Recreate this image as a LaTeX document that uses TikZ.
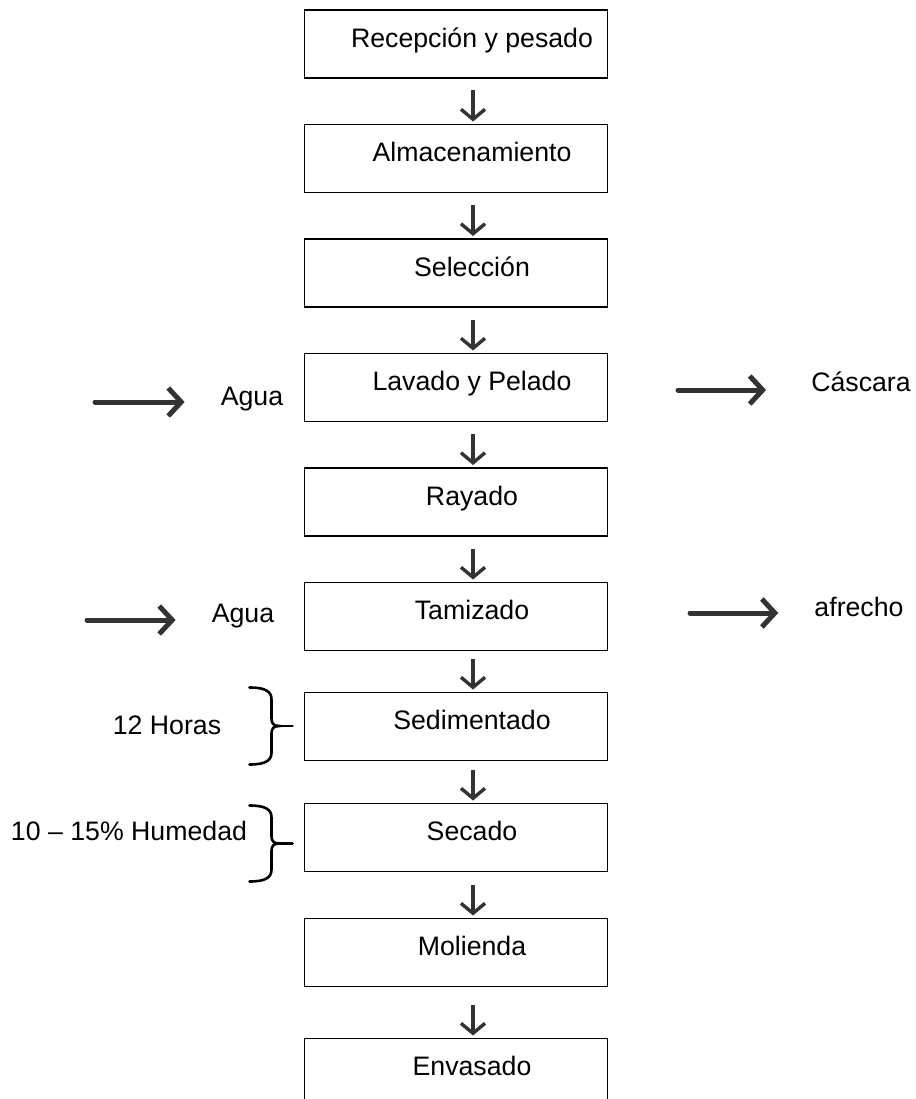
\documentclass[tikz,border=0pt]{standalone}
\usepackage{fontspec}
\setmainfont{Liberation Sans}
\usetikzlibrary{arrows.meta,positioning,calc}

\begin{document}
\begin{tikzpicture}[x=1pt, y=-1pt, node distance=46.5pt, font=\fontsize{26.7}{32}\selectfont]
  % ------- styles -------
  \tikzstyle{stepbox}=[draw, line width=1.8pt, minimum width=303pt, minimum height=68pt, inner sep=0pt, outer sep=0pt]
  \tikzstyle{txt}=[text height=19.3pt, text depth=0pt, inner sep=0pt]
  \tikzstyle{lbl}=[txt, xshift=16pt, yshift=6.5pt]
  \tikzstyle{flow}=[draw=black!80, line width=3.4pt, -{Straight Barb[length=10pt, width=24pt]}, shorten >=3pt]
  \tikzstyle{side}=[draw=black!80, line width=5pt, line cap=round, -{Straight Barb[length=13pt, width=28pt]}]
  \tikzstyle{curly}=[draw, line width=2.6pt, line cap=round]

  \useasboundingbox (0,0) rectangle (915,1099);
  \clip (0,0) rectangle (915,1099);

  % ------- process steps -------
  \node[stepbox, label={[lbl]center:Recepción y pesado}] (rec) at (456,44) {};
  \node[stepbox, below=of rec, label={[lbl]center:Almacenamiento}] (alm) {};
  \node[stepbox, below=of alm, label={[lbl]center:Selección}] (sel) {};
  \node[stepbox, below=of sel, label={[lbl]center:Lavado y Pelado}] (lav) {};
  \node[stepbox, below=of lav, label={[lbl]center:Rayado}] (ray) {};
  \node[stepbox, below=of ray, label={[lbl]center:Tamizado}] (tam) {};
  \node[stepbox, below=42pt of tam, label={[lbl]center:Sedimentado}] (sed) {};
  \node[stepbox, below=43pt of sed, label={[lbl]center:Secado}] (sec) {};
  \node[stepbox, below=47pt of sec, label={[lbl]center:Molienda}] (mol) {};
  \node[stepbox, below=52pt of mol, label={[lbl]center:Envasado}] (env) {};

  % ------- side texts -------
  \node[txt] (agua1) at (252,396) {Agua};
  \node[txt] (casc)  at (861,381.5) {Cáscara};
  \node[txt] (agua2) at (243,613) {Agua};
  \node[txt] (afre)  at (859,607) {afrecho};
  \node[txt] (hrs)   at (167,725) {12 Horas};
  \node[txt] (hum)   at (129,831) {10 -- 15\% Humedad};

  % ------- main flow -------
  \foreach \a/\b/\s in {rec/alm/12.5, alm/sel/12.5, sel/lav/12.5, lav/ray/12.5, ray/tam/12.5,
                        tam/sed/8, sed/sec/9, sec/mol/13, mol/env/18}
    \draw[flow, shorten <=\s pt] ([xshift=17pt]\a.south) -- ([xshift=17pt]\b.north);

  % inputs and outputs
  \coordinate (in1)  at (95,402);
  \coordinate (out1) at (678,390);
  \coordinate (in2)  at (87,620);
  \coordinate (out2) at (690,613);
  \draw[side, shorten >=36pt] (in1) -- (in1 -| agua1.west);
  \draw[side, shorten >=45pt] (out1) -- (out1 -| casc.west);
  \draw[side, shorten >=36pt] (in2) -- (in2 -| agua2.west);
  \draw[side, shorten >=36pt] (out2) -- (out2 -| afre.west);

  % braces
  \draw[curly] ([xshift=-55pt,yshift=5pt]sed.north west)
    .. controls +(16,0) and +(0,-8) .. ++(22,12) -- ++(0,19)
    .. controls +(0,5) and +(-6,0) .. ++(8,7.5) coordinate (k1)
    .. controls +(-6,0) and +(0,-5) .. ++(-8,7.5) -- ++(0,19)
    .. controls +(0,8) and +(16,0) .. ++(-22,12);
  \draw[curly] (k1) -- ++(13,0);
  \draw[curly] ([xshift=-55pt,yshift=-2pt]sec.north west)
    .. controls +(16,0) and +(0,-8) .. ++(22,12) -- ++(0,18.5)
    .. controls +(0,5) and +(-6,0) .. ++(8,7.5) coordinate (k2)
    .. controls +(-6,0) and +(0,-5) .. ++(-8,7.5) -- ++(0,18.5)
    .. controls +(0,8) and +(16,0) .. ++(-22,12);
  \draw[curly] (k2) -- ++(13,0);

\end{tikzpicture}
\end{document}
